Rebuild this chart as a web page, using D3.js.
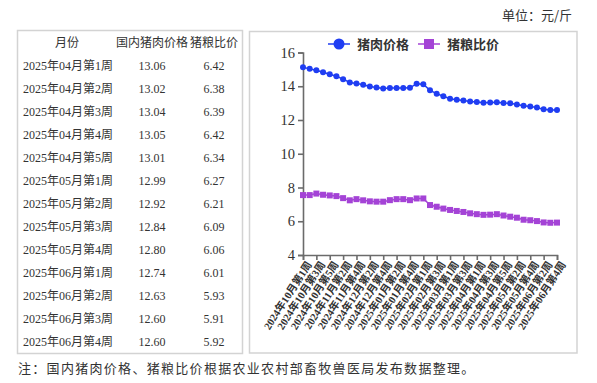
<!DOCTYPE html>
<meta charset="utf-8">
<head>
    <title>猪肉价格与猪粮比价</title>
    <style>
        body { margin: 0; background: #fff; }
        svg text { fill: #333; }
    </style>
</head>
<body>
<svg width="597" height="383"></svg>
<script src="https://d3js.org/d3.v7.min.js"></script>
<script>

    // weekly labels for the chart (39 weeks, Oct 2024 - Jun 2025)
    var weekMonths = [
        ["2024年10月", 5], ["2024年11月", 4], ["2024年12月", 4],
        ["2025年01月", 5], ["2025年02月", 4], ["2025年03月", 4],
        ["2025年04月", 5], ["2025年05月", 4], ["2025年06月", 4]
    ];
    var weeks = [];
    weekMonths.forEach(function(m) {
        for (var i = 1; i <= m[1]; i++) weeks.push(m[0] + "第" + i + "周");
    });

    // pork price, yuan / jin
    var porkPrice = [15.12, 15.03, 14.95, 14.83, 14.71, 14.59, 14.42, 14.22, 14.17, 14.09,
        13.98, 13.92, 13.86, 13.89, 13.89, 13.89, 13.91, 14.15, 14.12, 13.76,
        13.56, 13.41, 13.26, 13.2, 13.15, 13.1,
        13.06, 13.02, 13.04, 13.05, 13.01, 12.99, 12.92, 12.84, 12.80, 12.74, 12.63, 12.60, 12.60];

    // hog-grain ratio
    var hogGrain = [7.55, 7.55, 7.64, 7.57, 7.53, 7.49, 7.37, 7.24, 7.31, 7.24,
        7.18, 7.16, 7.16, 7.25, 7.31, 7.31, 7.25, 7.35, 7.35, 6.96,
        6.86, 6.75, 6.67, 6.61, 6.55, 6.47,
        6.42, 6.38, 6.39, 6.42, 6.34, 6.27, 6.21, 6.09, 6.06, 6.01, 5.93, 5.91, 5.92];

    // table rows (last 13 weeks)
    var tableWeeks = weeks.slice(26);
    var tablePork = ["13.06", "13.02", "13.04", "13.05", "13.01", "12.99", "12.92",
        "12.84", "12.80", "12.74", "12.63", "12.60", "12.60"];
    var tableRatio = ["6.42", "6.38", "6.39", "6.42", "6.34", "6.27", "6.21",
        "6.09", "6.06", "6.01", "5.93", "5.91", "5.92"];
    var tableHeader = ["月份", "国内猪肉价格", "猪粮比价"];

    var yTicks = [4, 6, 8, 10, 12, 14, 16];

    var svg = d3.select("svg");
    var serif = "'Liberation Serif', 'Noto Sans CJK SC', serif";
    var cjk = "'Noto Sans CJK SC', sans-serif";
    var blue = "#1f3df2", purple = "#a443d6";

    // unit note
    svg.append("text")
        .attr("x", 572).attr("y", 20)
        .attr("text-anchor", "end")
        .style("font-family", cjk).style("font-size", "13px")
        .text("单位：元/斤");

    // --- table ---
    svg.append("rect")
        .attr("x", 17.5).attr("y", 30.5).attr("width", 225).attr("height", 323)
        .attr("fill", "none").attr("stroke", "#d3d3d3").attr("stroke-width", 1.5);

    var colX = [67, 152, 214];
    var rowY = d3.scaleLinear().domain([0, 1]).range([47, 70]);

    svg.append("g").selectAll("text")
        .data(tableHeader).enter().append("text")
        .attr("x", function(d, i) { return colX[i]; })
        .attr("y", rowY(0))
        .attr("text-anchor", "middle")
        .style("font-family", cjk).style("font-size", "12px")
        .text(function(d) { return d; });

    var rows = svg.append("g").selectAll("g")
        .data(tableWeeks).enter().append("g")
        .attr("transform", function(d, i) { return "translate(0," + rowY(i + 1) + ")"; })
        .style("font-family", serif).style("font-size", "12px");

    rows.append("text").attr("x", 23).text(function(d) { return d; });
    rows.append("text").attr("x", colX[1]).attr("text-anchor", "middle")
        .text(function(d, i) { return tablePork[i]; });
    rows.append("text").attr("x", colX[2]).attr("text-anchor", "middle")
        .text(function(d, i) { return tableRatio[i]; });

    // --- chart ---
    svg.append("rect")
        .attr("x", 249.5).attr("y", 31.5).attr("width", 327.5).attr("height", 321.5)
        .attr("fill", "none").attr("stroke", "#d3d3d3").attr("stroke-width", 1.5);

    var x = d3.scalePoint().domain(d3.range(weeks.length)).range([303, 557]);
    var y = d3.scaleLinear().domain([4, 16]).range([255, 52.5]);

    var yAxis = svg.append("g")
        .attr("transform", "translate(303,0)")
        .call(d3.axisLeft(y).tickValues(yTicks).tickSize(5).tickPadding(3));

    var xAxis = svg.append("g")
        .attr("transform", "translate(0,255)")
        .call(d3.axisBottom(x)
            .tickValues(d3.range(0, weeks.length, 2))
            .tickSize(5)
            .tickFormat(function(i) { return weeks[i]; }));

    [yAxis, xAxis].forEach(function(a) {
        a.selectAll("path, line").attr("stroke", "#6b6b6b").attr("stroke-width", 1.6);
    });
    yAxis.selectAll("text").style("font-family", serif).style("font-size", "14.5px").attr("fill", "#333");
    xAxis.selectAll("text")
        .style("font-family", serif).style("font-size", "10.5px").attr("fill", "#444")
        .style("font-weight", "bold")
        .attr("text-anchor", "end")
        .attr("dy", "0.35em")
        .attr("transform", "translate(-1,3) rotate(-57)");

    var porkLine = d3.line().x(function(d, i) { return x(i); }).y(function(d) { return y(d); });

    svg.append("path").datum(porkPrice)
        .attr("d", porkLine).attr("fill", "none").attr("stroke", blue).attr("stroke-width", 1.5);
    svg.append("g").selectAll("circle").data(porkPrice).enter().append("circle")
        .attr("cx", function(d, i) { return x(i); })
        .attr("cy", function(d) { return y(d); })
        .attr("r", 3).attr("fill", blue);

    svg.append("path").datum(hogGrain)
        .attr("d", porkLine).attr("fill", "none").attr("stroke", purple).attr("stroke-width", 1.5);
    svg.append("g").selectAll("rect").data(hogGrain).enter().append("rect")
        .attr("x", function(d, i) { return x(i) - 3; })
        .attr("y", function(d) { return y(d) - 3; })
        .attr("width", 6).attr("height", 6).attr("fill", purple);

    // legend
    var legend = svg.append("g").style("font-family", cjk).style("font-size", "13px");
    var items = [
        { name: "猪肉价格", color: blue, x: 328, shape: "circle" },
        { name: "猪粮比价", color: purple, x: 418, shape: "rect" }
    ];
    items.forEach(function(it) {
        var g = legend.append("g").attr("transform", "translate(" + it.x + ",44)");
        g.append("line").attr("x1", 0).attr("x2", 22).attr("stroke", it.color).attr("stroke-width", 1.5);
        if (it.shape === "circle") g.append("circle").attr("cx", 11).attr("r", 5.5).attr("fill", it.color);
        else g.append("rect").attr("x", 6).attr("y", -5).attr("width", 10).attr("height", 10).attr("fill", it.color);
        g.append("text").attr("x", 29).attr("dy", "0.36em").style("font-weight", "bold").text(it.name);
    });

    // footnote
    svg.append("text")
        .attr("x", 18).attr("y", 373)
        .style("font-family", cjk).style("font-size", "13px")
        .style("letter-spacing", "1.3px")
        .text("注：国内猪肉价格、猪粮比价根据农业农村部畜牧兽医局发布数据整理。");

</script>
</body>
